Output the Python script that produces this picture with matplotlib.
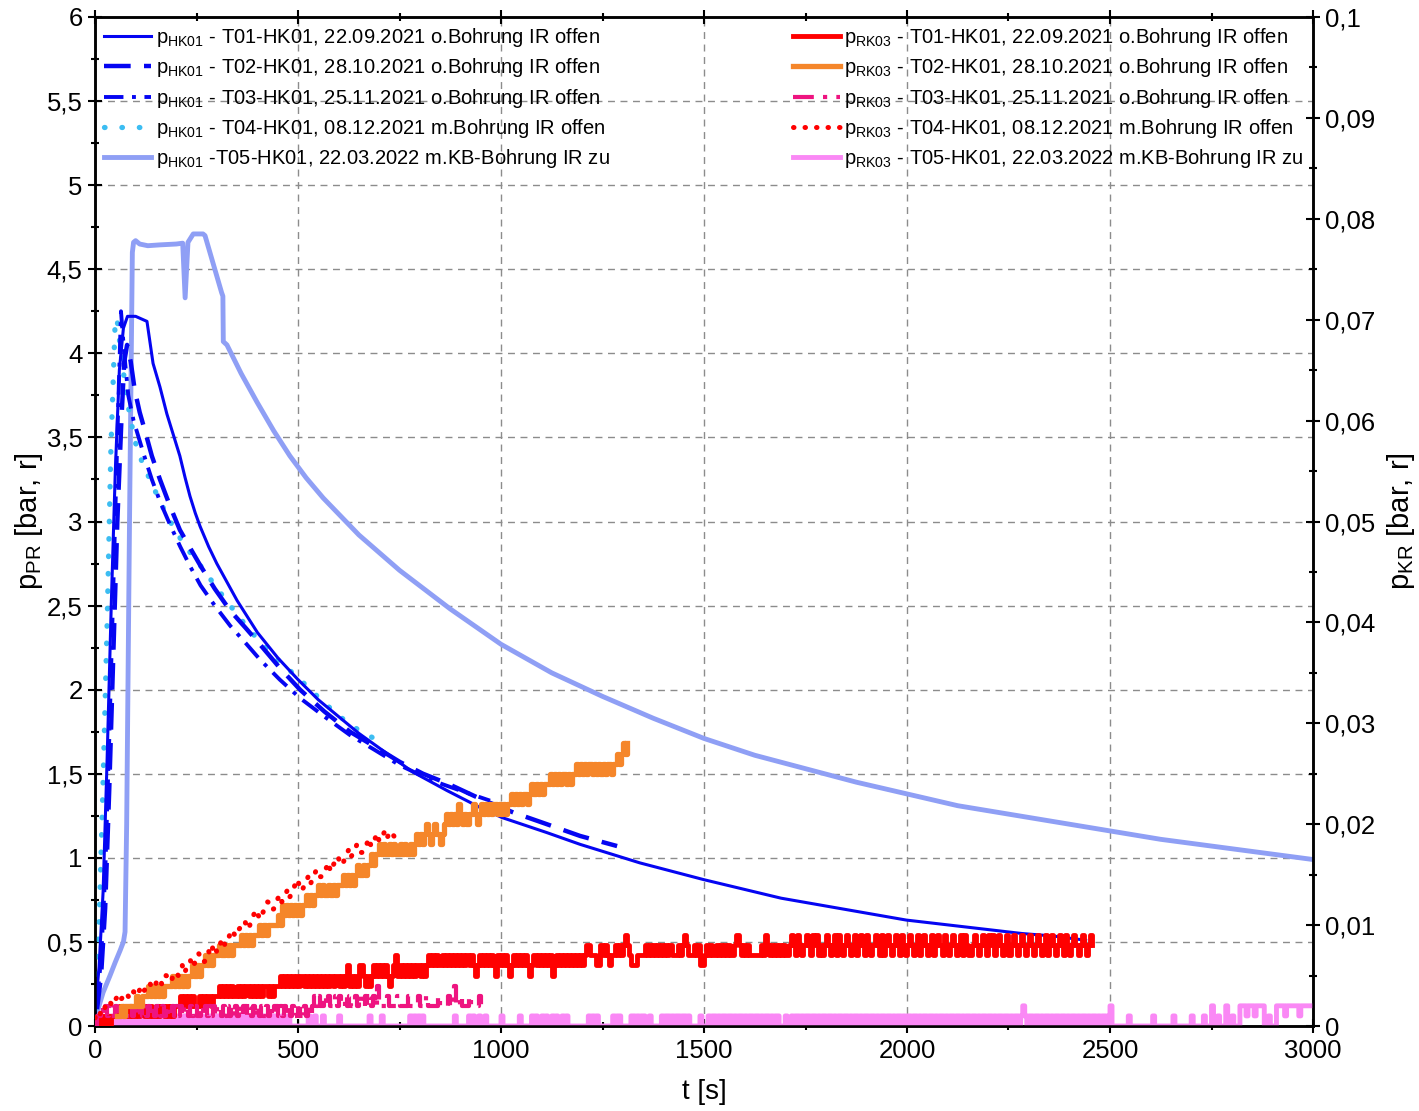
import numpy as np
import matplotlib
matplotlib.use('Agg')
import matplotlib.pyplot as plt
from matplotlib.ticker import MultipleLocator, FuncFormatter

plt.rcParams['font.family'] = ['Liberation Sans', 'DejaVu Sans']
plt.rcParams['mathtext.fontset'] = 'custom'
plt.rcParams['mathtext.rm'] = 'Liberation Sans'
plt.rcParams['mathtext.it'] = 'Liberation Sans:italic'

# ---- p_HK01, left axis (t in s, p in bar) ----
hk_t01_t = [0, 10, 20, 30, 40, 50, 60, 70, 80, 100, 128, 143, 160, 177, 209, 222, 234, 247,
            259, 280, 300, 350, 400, 450, 500, 550, 600, 650, 702, 783, 867, 948, 1002,
            1113, 1195, 1342, 1500, 1690, 1998, 2283, 2360, 2440]
hk_t01_p = [0.08, 0.35, 0.8, 1.6, 2.5, 3.3, 3.9, 4.15, 4.22, 4.22, 4.19, 3.94, 3.80, 3.64,
            3.39, 3.26, 3.15, 3.05, 2.97, 2.85, 2.75, 2.53, 2.34, 2.19, 2.06, 1.94, 1.84,
            1.74, 1.65, 1.51, 1.40, 1.30, 1.24, 1.15, 1.08, 0.97, 0.87, 0.76, 0.63, 0.55,
            0.535, 0.51]

hk_t02_t = [5, 15, 25, 35, 45, 55, 65, 72, 79, 88, 98, 110, 123, 140, 160, 185, 209, 235,
            259, 295, 333, 370, 406, 455, 505, 565, 628, 690, 751, 808, 870, 950, 1030,
            1113, 1195, 1286]
hk_t02_p = [0.1, 0.3, 0.7, 1.4, 2.2, 3.0, 3.6, 3.95, 4.05, 3.95, 3.78, 3.65, 3.54, 3.39,
            3.25, 3.09, 2.95, 2.84, 2.74, 2.60, 2.47, 2.37, 2.27, 2.13, 2.0, 1.87, 1.75,
            1.66, 1.57, 1.50, 1.44, 1.35, 1.27, 1.20, 1.13, 1.07]

hk_t03_t = [5, 15, 25, 35, 45, 55, 64, 72, 82, 95, 120, 140, 160, 185, 210, 235, 260, 295,
            333, 370, 406, 455, 505, 565, 628, 690, 751, 830, 900, 973]
hk_t03_p = [0.15, 0.4, 0.9, 1.7, 2.6, 3.5, 4.25, 4.0, 3.75, 3.6, 3.4, 3.25, 3.12, 2.98,
            2.85, 2.73, 2.62, 2.50, 2.38, 2.28, 2.18, 2.06, 1.95, 1.84, 1.73, 1.64, 1.55,
            1.46, 1.40, 1.34]

hk_t04_t = [0, 10, 20, 30, 39, 49, 54, 64, 79, 98, 115, 135, 160, 185, 220, 259, 320, 382,
            440, 505, 565, 628, 702, 715]
hk_t04_p = [0.1, 0.6, 1.46, 2.41, 3.42, 4.14, 4.21, 4.0, 3.72, 3.48, 3.36, 3.25, 3.12, 3.0,
            2.86, 2.74, 2.54, 2.35, 2.2, 2.06, 1.92, 1.79, 1.69, 1.67]

hk_t05_t = [0, 10, 20, 37, 50, 62, 70, 74, 78, 85, 92, 95, 100, 110, 130, 160, 200, 216,
            222, 229, 242, 266, 271, 312, 315, 316, 325, 360, 399, 440, 480, 520, 562, 650,
            750, 875, 1000, 1125, 1250, 1375, 1500, 1625, 1750, 1875, 2000, 2125, 2250,
            2375, 2500, 2625, 2750, 2875, 3000]
hk_t05_p = [0.03, 0.12, 0.2, 0.3, 0.38, 0.45, 0.5, 0.56, 1.2, 3.0, 4.6, 4.66, 4.67, 4.65,
            4.64, 4.645, 4.65, 4.655, 4.33, 4.66, 4.71, 4.71, 4.70, 4.36, 4.34, 4.07, 4.05,
            3.88, 3.71, 3.54, 3.39, 3.26, 3.14, 2.92, 2.71, 2.48, 2.27, 2.10, 1.96, 1.83,
            1.71, 1.61, 1.53, 1.45, 1.38, 1.31, 1.26, 1.21, 1.16, 1.11, 1.07, 1.03, 0.99]

# ---- p_RK03, right axis ----
# logger output is quantised: one base-36 character per sample = level * RK_STEP bar
RK_STEP = 0.001

rk_t01_start, rk_t01_dt = 0, 5
rk_t01_levels = (
    "0101101011"
    "112112121121221212112122121212"
    "2232323232232323323"
    "334343434334343443434343443434"
    "44545454545455454545454545454554545"
    "645454665454565656565456756565656566565"
    "676767667676767676767676" "5" "676767676" "5" "767676" "5" "676767676" "5"
    "6767676767" "5" "676767676767676"
    "78" "87" "77" "66" "8787" "67" "7" "87878987" "666" "7777" "8787878787878" "777"
    "878987" "77878" "66" "787877" "87878787" "7" "8987878" "777777" "87987878787" "87"
    "789879878987989787898789798789"
    "878978987987898797898789879878"
    "987897898789789879878987897987"
    "789878987989789878978987898789"
    "878987897898789879878987898789"
    "8"
)

rk_t02_start, rk_t02_dt = 55, 5
rk_t02_levels = (
    "11212" "2222322" "3334343434344" "44545454545" "5656566767" "6777877878788"
    "8898989899" "9a9a9aaa" "aabacbcbc" "bcbcbccdcd" "cddededdededee" "efefefefgffgfg"
    "ghghhihihhihihhihihhih" "ijijijkjijkjjij" "klklklkmlklkllmlk" "lmlmlmlmmlmlmlm"
    "mnmnmnmnnm" "nonononoo" "opopopoppopop" "pqpqpqpqqpqpqpqpqqpq" "qrqrsrs"
)

rk_t03_start, rk_t03_dt = 0, 5
rk_t03_levels = (
    "011212121121212112121"
    "1212121212212121121212122121211212121212"
    "2121212121212212121212121212212121212121212121"
    "23232232322323223232232322323232"
    "4"
    "2222322223222232222322232222232222322"
    "4"
    "22322232222322"
)

# T04 was logged with a finer resolution (values in mbar, every 5 s)
rk_t04_dt = 5
rk_t04_mbar = [
    0.8, 1.2, 0.9, 1.5, 1.3, 1.9, 1.8, 2.4, 2.2, 2.0, 2.6, 2.9, 2.4, 2.7, 2.9, 3.3, 3.1,
    2.7, 2.8, 3.4, 3.3, 3.0, 3.6, 3.9, 3.4, 3.8, 3.9, 4.3, 3.7, 4.0, 4.2, 4.7, 4.6, 4.1,
    4.3, 5.0, 4.9, 4.4, 4.7, 5.3, 5.3, 5.0, 5.6, 6.0, 5.2, 5.7, 6.1, 6.5, 5.8, 6.2, 6.6,
    7.2, 6.9, 6.3, 6.4, 7.1, 7.4, 7.0, 7.8, 8.1, 7.3, 7.7, 8.3, 8.7, 8.0, 8.4, 8.8, 9.5,
    9.4, 8.9, 9.0, 9.6, 9.9, 10.4, 10.3, 9.6, 9.8, 10.5, 10.9, 11.5, 11.3, 10.6, 10.8,
    11.4, 11.7, 12.3, 12.2, 11.5, 11.6, 12.1, 12.6, 13.0, 12.3, 12.7, 13.1, 13.6, 12.8,
    13.2, 13.6, 14.5, 14.4, 13.6, 13.4, 13.9, 14.3, 14.8, 14.0, 14.5, 14.9, 15.5, 15.4,
    14.8, 14.8, 15.3, 15.7, 16.2, 15.3, 15.8, 16.2, 16.8, 16.6, 16.0, 16.0, 16.6, 17.0,
    17.5, 16.7, 17.1, 17.4, 18.0, 17.9, 17.2, 17.2, 17.7, 18.1, 18.6, 17.8, 18.2, 18.6,
    19.1, 18.3, 18.7, 19.0, 19.4, 18.7, 19.1, 19.3, 18.9, 18.6,
]

rk_t05_start, rk_t05_dt = 0, 5
rk_t05_levels = (
    "01010010110100101101001010011010"
    "01001011010010100110100101001011"
    "00101001010010100110100101001001"
    "0000000001" "0010001000" "0000100000" "0000000001" "0000010000" "0000000001"
    "0101010000" "0000000000" "0100000010" "1001001000" "0000100000" "000100000"
    "101001010010100101" "0000000000" "10101" "0000000" "1011" "00000" "1101011"
    "00100000" "10110101101101" "000001" "000" "101101011011010110101101101011010110"
    "00100101101011011010110110101101101011010110110101101101"
    "01101011011010110110101101011011010110110101101101011"
    "0110101101"
    "2101101101011010110110101101011010110101101" "2"
    "00000000100000000000100000000010000000010000"
    "01000200100020010002" "22122212222" "0010002" "222122222212222222"
)

labels_hk = [
    r'p$_{\mathrm{HK01}}$ - T01-HK01, 22.09.2021 o.Bohrung IR offen',
    r'p$_{\mathrm{HK01}}$ - T02-HK01, 28.10.2021 o.Bohrung IR offen',
    r'p$_{\mathrm{HK01}}$ - T03-HK01, 25.11.2021 o.Bohrung IR offen',
    r'p$_{\mathrm{HK01}}$ - T04-HK01, 08.12.2021 m.Bohrung IR offen',
    r'p$_{\mathrm{HK01}}$ -T05-HK01, 22.03.2022 m.KB-Bohrung IR zu',
]
labels_rk = [
    r'p$_{\mathrm{RK03}}$ - T01-HK01, 22.09.2021 o.Bohrung IR offen',
    r'p$_{\mathrm{RK03}}$ - T02-HK01, 28.10.2021 o.Bohrung IR offen',
    r'p$_{\mathrm{RK03}}$ - T03-HK01, 25.11.2021 o.Bohrung IR offen',
    r'p$_{\mathrm{RK03}}$ - T04-HK01, 08.12.2021 m.Bohrung IR offen',
    r'p$_{\mathrm{RK03}}$ - T05-HK01, 22.03.2022 m.KB-Bohrung IR zu',
]


def decode(levels, start, dt):
    vals = np.array([int(c, 36) for c in levels]) * RK_STEP
    t = start + dt * np.arange(len(vals))
    return t, vals


def comma(v, pos):
    return f'{round(v, 6):g}'.replace('.', ',')


fig = plt.figure(figsize=(14.19, 11.11), dpi=100)
ax = fig.add_axes([95 / 1419, 85 / 1111, 1218 / 1419, 1009 / 1111])
ax2 = ax.twinx()

blue = '#0505f2'
dotted = (0, (0.1, 3.2))
dashdot = (0, (5, 2.2, 1.0, 2.2))
h5, = ax.plot(hk_t05_t, hk_t05_p, color='#8f9ff5', lw=3.5, zorder=2)
h4, = ax.plot(hk_t04_t, hk_t04_p, color='#3cbdf2', lw=3.8, ls=dotted,
              dash_capstyle='round', zorder=3)
h3, = ax.plot(hk_t03_t, hk_t03_p, color=blue, lw=2.8, ls=dashdot, zorder=4)
h2, = ax.plot(hk_t02_t, hk_t02_p, color=blue, lw=3.2, ls=(0, (6, 3)), zorder=4)
h1, = ax.plot(hk_t01_t, hk_t01_p, color=blue, lw=2.2, zorder=5)

t, v = decode(rk_t05_levels, rk_t05_start, rk_t05_dt)
r5, = ax2.plot(t, v, color='#fa88f5', lw=3.5, drawstyle='steps-post', zorder=2)
t, v = decode(rk_t01_levels, rk_t01_start, rk_t01_dt)
r1, = ax2.plot(t, v, color='#ff0000', lw=3.5, drawstyle='steps-post', zorder=3)
t, v = decode(rk_t03_levels, rk_t03_start, rk_t03_dt)
r3, = ax2.plot(t, v, color='#ee1480', lw=3, ls=dashdot, drawstyle='steps-post', zorder=4)
t, v = decode(rk_t02_levels, rk_t02_start, rk_t02_dt)
r2, = ax2.plot(t, v, color='#f5862a', lw=3.8, drawstyle='steps-post', zorder=4)
t4 = rk_t04_dt * np.arange(len(rk_t04_mbar))
r4, = ax2.plot(t4, np.array(rk_t04_mbar) / 1000, color='#ff0000', lw=3.6,
               ls=(0, (0.1, 2.2)), dash_capstyle='round', zorder=5)

ax.set_xlim(0, 3000)
ax.set_ylim(0, 6)
ax2.set_ylim(0, 0.1)

ax.xaxis.set_major_locator(MultipleLocator(500))
ax.xaxis.set_minor_locator(MultipleLocator(250))
ax.yaxis.set_major_locator(MultipleLocator(0.5))
ax.yaxis.set_minor_locator(MultipleLocator(0.25))
ax2.yaxis.set_major_locator(MultipleLocator(0.01))
ax2.yaxis.set_minor_locator(MultipleLocator(0.005))
for a in (ax.xaxis, ax.yaxis, ax2.yaxis):
    a.set_major_formatter(FuncFormatter(comma))

ax.grid(True, which='major', ls=(0, (5, 4)), color='#8c8c8c', lw=1)
ax.tick_params(which='both', direction='inout', top=True, right=False, width=1.5,
               labelsize=18.5, pad=4)
ax.tick_params(which='major', length=10)
ax.tick_params(which='minor', length=6)
ax2.tick_params(which='both', direction='inout', width=1.5, labelsize=18.5, pad=4)
ax2.tick_params(which='major', length=10)
ax2.tick_params(which='minor', length=6)
for a in (ax, ax2):
    for s in a.spines.values():
        s.set_linewidth(1.8)

ax.set_xlabel('t [s]', fontsize=20, labelpad=12)
ax.set_ylabel(r'p$_{\mathrm{PR}}$ [bar, r]', fontsize=21, labelpad=1)
ax2.set_ylabel(r'p$_{\mathrm{KR}}$ [bar, r]', fontsize=21, labelpad=7)

leg_kw = dict(frameon=False, fontsize=14.5, handlelength=2.35, handletextpad=0.22,
              labelspacing=0.36, borderaxespad=0.35, borderpad=0.1)
leg1 = ax2.legend([h1, h2, h3, h4, h5], labels_hk, loc='upper left', **leg_kw)
ax2.add_artist(leg1)
ax2.legend([r1, r2, r3, r4, r5], labels_rk, loc='upper right', **leg_kw)

fig.savefig('out.png', dpi=100)
